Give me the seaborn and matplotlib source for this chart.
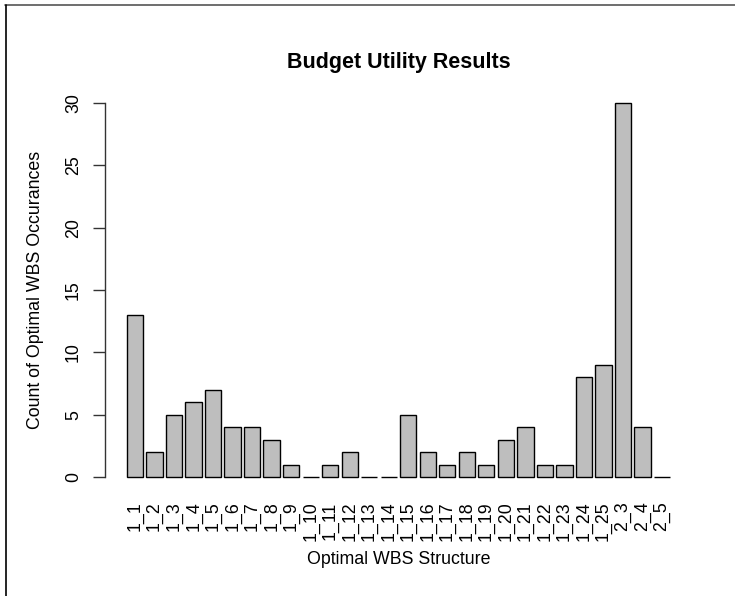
import matplotlib
matplotlib.use("Agg")
import matplotlib.pyplot as plt
from matplotlib.lines import Line2D
import seaborn as sns
import pandas as pd

# WBS structure labels and how often each came out optimal
structures = ["1_1", "1_2", "1_3", "1_4", "1_5", "1_6", "1_7", "1_8", "1_9", "1_10",
              "1_11", "1_12", "1_13", "1_14", "1_15", "1_16", "1_17", "1_18", "1_19", "1_20",
              "1_21", "1_22", "1_23", "1_24", "1_25", "2_3", "2_4", "2_5"]
counts = [13, 2, 5, 6, 7, 4, 4, 3, 1, 0,
          1, 2, 0, 0, 5, 2, 1, 2, 1, 3,
          4, 1, 1, 8, 9, 30, 4, 0]
y_ticks = [0, 5, 10, 15, 20, 25, 30]

df = pd.DataFrame({"structure": structures, "count": counts})

sns.set_style("white")
plt.rcParams["font.family"] = ["Liberation Sans", "DejaVu Sans"]
plt.rcParams["text.color"] = "black"
plt.rcParams["axes.labelcolor"] = "black"
plt.rcParams["xtick.color"] = "black"
plt.rcParams["ytick.color"] = "black"

FS = 12.8

fig = plt.figure(figsize=(7.35, 5.96), dpi=100)
ax = fig.add_axes([105 / 735, 104 / 596, 587 / 735, 404 / 596])

sns.barplot(data=df, x="structure", y="count", order=structures, ax=ax,
            color="#BEBEBE", saturation=1, width=1 / 1.2,
            edgecolor="black", linewidth=1.0, errorbar=None)

ax.set_xlim(-1.536, 28.536)
ax.set_ylim(-1.2, 31.2)

for side in ["top", "right", "bottom"]:
    ax.spines[side].set_visible(False)
ax.spines["left"].set_bounds(0, 30)
ax.spines["left"].set_color("#333333")
ax.spines["left"].set_linewidth(1.0)

ax.set_yticks(y_ticks)
ax.set_yticklabels([str(t) for t in y_ticks], rotation=90, va="center")
ax.tick_params(axis="y", length=8.6, width=1.0, color="#333333", pad=8,
               labelsize=FS, left=True)
ax.tick_params(axis="x", length=0, pad=7, labelsize=FS, labelrotation=90)

ax.set_xlabel("Optimal WBS Structure", fontsize=FS)
ax.xaxis.set_label_coords(0.5, (45 - 104) / 404)
ax.set_ylabel("Count of Optimal WBS Occurances", fontsize=FS)
ax.yaxis.set_label_coords((44 - 105) / 587, 0.5)
ax.set_title("Budget Utility Results", fontsize=15.5, fontweight="bold", pad=14.4)

# frame lines along the top and left edges of the figure
fig.add_artist(Line2D([5 / 735, 1], [1 - 5 / 596, 1 - 5 / 596],
                      transform=fig.transFigure, color="#555555", lw=1.2))
fig.add_artist(Line2D([6 / 735, 6 / 735], [0, 1 - 5 / 596],
                      transform=fig.transFigure, color="black", lw=1.2))

fig.savefig("out.png", dpi=100, facecolor="white")
